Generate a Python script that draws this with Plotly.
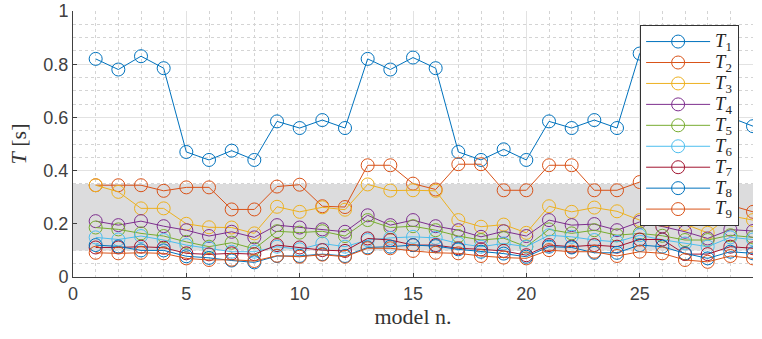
import plotly.graph_objects as go

models = list(range(1, 31))

T1 = [0.82, 0.78, 0.83, 0.785, 0.47, 0.44, 0.475, 0.44, 0.585, 0.56, 0.59, 0.56,
      0.82, 0.78, 0.825, 0.785, 0.47, 0.44, 0.48, 0.44, 0.585, 0.56, 0.59, 0.56,
      0.84, 0.78, 0.83, 0.785, 0.60, 0.567]
T2 = [0.345, 0.345, 0.345, 0.324, 0.337, 0.337, 0.254, 0.254, 0.340, 0.347, 0.266, 0.263,
      0.42, 0.42, 0.351, 0.329, 0.424, 0.424, 0.326, 0.326, 0.42, 0.42, 0.326, 0.326,
      0.357, 0.357, 0.35, 0.33, 0.27, 0.245]
T3 = [0.345, 0.32, 0.258, 0.258, 0.20, 0.187, 0.186, 0.164, 0.264, 0.245, 0.262, 0.253,
      0.348, 0.325, 0.326, 0.324, 0.214, 0.189, 0.197, 0.166, 0.266, 0.245, 0.261, 0.247,
      0.214, 0.189, 0.199, 0.166, 0.23, 0.214]
T4 = [0.21, 0.195, 0.21, 0.191, 0.176, 0.154, 0.17, 0.149, 0.195, 0.186, 0.179, 0.17,
      0.232, 0.195, 0.214, 0.191, 0.176, 0.151, 0.172, 0.154, 0.214, 0.195, 0.199, 0.176,
      0.207, 0.19, 0.17, 0.145, 0.178, 0.173]
T5 = [0.186, 0.179, 0.164, 0.154, 0.132, 0.114, 0.129, 0.106, 0.172, 0.167, 0.172, 0.154,
      0.214, 0.186, 0.191, 0.176, 0.154, 0.139, 0.146, 0.114, 0.179, 0.164, 0.176, 0.157,
      0.164, 0.155, 0.139, 0.139, 0.157, 0.149]
T6 = [0.149, 0.141, 0.154, 0.139, 0.12, 0.108, 0.095, 0.095, 0.114, 0.104, 0.126, 0.114,
      0.139, 0.147, 0.151, 0.147, 0.126, 0.114, 0.126, 0.114, 0.157, 0.151, 0.139, 0.132,
      0.157, 0.14, 0.126, 0.114, 0.149, 0.141]
T7 = [0.111, 0.111, 0.114, 0.11, 0.089, 0.085, 0.089, 0.086, 0.12, 0.111, 0.101, 0.098,
      0.145, 0.139, 0.12, 0.12, 0.108, 0.104, 0.098, 0.082, 0.12, 0.114, 0.12, 0.114,
      0.141, 0.141, 0.086, 0.086, 0.114, 0.108]
T8 = [0.12, 0.115, 0.1, 0.1, 0.078, 0.072, 0.062, 0.055, 0.079, 0.079, 0.086, 0.079,
      0.111, 0.114, 0.12, 0.116, 0.104, 0.095, 0.088, 0.076, 0.114, 0.111, 0.091, 0.091,
      0.12, 0.114, 0.089, 0.07, 0.095, 0.089]
T9 = [0.091, 0.089, 0.091, 0.089, 0.07, 0.064, 0.065, 0.06, 0.08, 0.076, 0.084, 0.076,
      0.108, 0.108, 0.098, 0.091, 0.089, 0.079, 0.073, 0.07, 0.101, 0.095, 0.095, 0.079,
      0.095, 0.089, 0.064, 0.057, 0.079, 0.07]

band_low, band_high = 0.10, 0.35

series = [T1, T2, T3, T4, T5, T6, T7, T8, T9]
colors = ["#0072BD", "#D95319", "#EDB120", "#7E2F8E", "#77AC30",
          "#4DBEEE", "#A2142F", "#0072BD", "#D95319"]

fig = go.Figure()

for i, (vals, col) in enumerate(zip(series, colors), start=1):
    fig.add_trace(go.Scatter(
        x=models, y=vals, mode="lines+markers",
        name=f'<span style="font-size:18.5px"><i>T</i><sub>{i}</sub></span>',
        line=dict(color=col, width=1),
        marker=dict(symbol="circle-open", size=13, color=col, line=dict(width=1)),
    ))

# shaded band covering the grid but sitting under the data
fig.add_shape(type="rect", xref="x", yref="y", x0=0, x1=30, y0=band_low, y1=band_high,
              fillcolor="#DCDCDD", line=dict(width=0), layer="between")

axis_font = dict(family="Arial, Liberation Sans, sans-serif", size=18, color="#404040")
title_font = dict(family="Liberation Serif, DejaVu Serif, serif", size=22, color="#333333")

fig.update_layout(
    width=762, height=339,
    margin=dict(l=73, r=9, t=11, b=62),
    paper_bgcolor="white", plot_bgcolor="white",
    showlegend=True,
    legend=dict(
        x=0.834, y=0.947, xanchor="left", yanchor="top",
        bgcolor="white", bordercolor="#333333", borderwidth=1,
        font=dict(family="Liberation Serif, DejaVu Serif, serif", size=13.8, color="#222222"),
        tracegroupgap=0, itemwidth=64,
    ),
    xaxis=dict(
        range=[0, 30], dtick=5, tick0=0, automargin=False,
        showline=True, linecolor="#404040", linewidth=1,
        ticks="inside", ticklen=4, tickcolor="#404040",
        showgrid=True, gridcolor="#E2E2E2", gridwidth=1,
        zeroline=False, tickfont=axis_font,
        minor=dict(dtick=1, showgrid=True, gridcolor="#D4D4D4", griddash="dot", ticks=""),
        title=dict(text="model n.", font=title_font, standoff=6),
    ),
    yaxis=dict(
        range=[0, 1], dtick=0.2, tick0=0, automargin=False,
        showline=True, linecolor="#404040", linewidth=1,
        ticks="inside", ticklen=4, tickcolor="#404040",
        showgrid=True, gridcolor="#E2E2E2", gridwidth=1,
        zeroline=False, tickfont=axis_font,
        minor=dict(dtick=0.05, showgrid=True, gridcolor="#D4D4D4", griddash="dot", ticks=""),
        title=dict(text="<i>T</i> [s]", font=title_font, standoff=10),
    ),
)

fig.write_html("out.html")
